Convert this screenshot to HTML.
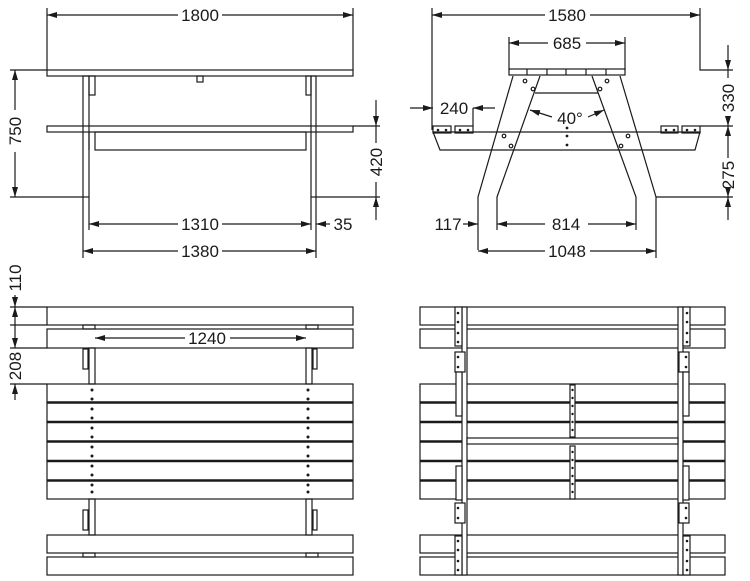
<!DOCTYPE html>
<html><head><meta charset="utf-8"><style>
html,body{margin:0;padding:0;background:#fff}
svg{display:block}
text{font-family:"Liberation Sans",sans-serif;font-size:17px;fill:#1a1a1a}
</style></head><body>
<svg width="750" height="581" viewBox="0 0 750 581" xmlns="http://www.w3.org/2000/svg">
<defs>
<marker id="a" viewBox="0 0 10 6" refX="10" refY="3" markerWidth="10" markerHeight="6" orient="auto-start-reverse" markerUnits="userSpaceOnUse"><path d="M0,0L10,3L0,6z" fill="#1a1a1a"/></marker>
</defs>
<g fill="none" stroke="#1a1a1a" stroke-width="1.2">
<line x1="47" y1="8" x2="47" y2="70"/><line x1="353" y1="8" x2="353" y2="70"/>
<line x1="47" y1="15" x2="178" y2="15" marker-start="url(#a)"/><line x1="222" y1="15" x2="353" y2="15" marker-end="url(#a)"/>
<rect x="47" y="70" width="306" height="6"/>
<rect x="197" y="76" width="6" height="6"/>
<rect x="83" y="76" width="6" height="121"/><rect x="311" y="76" width="5" height="121"/>
<rect x="89" y="76" width="6" height="19"/><rect x="306" y="76" width="5" height="19"/>
<rect x="47" y="126" width="306" height="6"/>
<rect x="95" y="132" width="211" height="18"/>
<line x1="89" y1="132" x2="89" y2="150"/>
<line x1="10" y1="70" x2="47" y2="70"/><line x1="10" y1="197" x2="83" y2="197"/>
<line x1="15" y1="70" x2="15" y2="110" marker-start="url(#a)"/><line x1="15" y1="152" x2="15" y2="197" marker-end="url(#a)"/>
<line x1="353" y1="126" x2="380" y2="126"/><line x1="316" y1="197" x2="380" y2="197"/>
<line x1="376" y1="100" x2="376" y2="126" marker-end="url(#a)"/><line x1="376" y1="126" x2="376" y2="143"/>
<line x1="376" y1="182" x2="376" y2="197"/><line x1="376" y1="220" x2="376" y2="197" marker-end="url(#a)"/>
<line x1="89" y1="197" x2="89" y2="230"/><line x1="311" y1="197" x2="311" y2="230"/>
<line x1="83" y1="197" x2="83" y2="258"/><line x1="316" y1="197" x2="316" y2="258"/>
<line x1="89" y1="224" x2="178" y2="224" marker-start="url(#a)"/><line x1="222" y1="224" x2="311" y2="224" marker-end="url(#a)"/>
<line x1="330" y1="224" x2="316" y2="224" marker-end="url(#a)"/>
<line x1="83" y1="251" x2="178" y2="251" marker-start="url(#a)"/><line x1="222" y1="251" x2="316" y2="251" marker-end="url(#a)"/>
<line x1="432" y1="8" x2="432" y2="130"/><polyline points="700,8 700,70 733,70"/>
<line x1="432" y1="15" x2="545" y2="15" marker-start="url(#a)"/><line x1="590" y1="15" x2="700" y2="15" marker-end="url(#a)"/>
<line x1="509" y1="37" x2="509" y2="70"/><line x1="625" y1="37" x2="625" y2="70"/>
<line x1="509" y1="43" x2="548" y2="43" marker-start="url(#a)"/><line x1="586" y1="43" x2="625" y2="43" marker-end="url(#a)"/>
<rect x="509" y="69" width="116" height="6"/>
<line x1="527" y1="69" x2="527" y2="75"/><line x1="547" y1="69" x2="547" y2="75"/><line x1="566" y1="69" x2="566" y2="75"/><line x1="586" y1="69" x2="586" y2="75"/><line x1="606" y1="69" x2="606" y2="75"/>
<polyline points="513,76 478,197 478,250"/><polyline points="540,76 497,197 497,230"/>
<polyline points="592,76 636,197 636,230"/><polyline points="620,76 656,197 656,258"/>
<line x1="535" y1="93" x2="598" y2="93"/>
<polygon points="433,132 700,132 695,150 440,150"/>
<rect x="433" y="126" width="18" height="7"/><rect x="455" y="126" width="18" height="7"/>
<rect x="661" y="126" width="17" height="7"/><rect x="682" y="126" width="18" height="7"/>
<circle cx="525" cy="81" r="1.8"/><circle cx="533" cy="89" r="1.8"/><circle cx="607" cy="81" r="1.8"/><circle cx="600" cy="89" r="1.8"/>
<circle cx="504" cy="136" r="1.8"/><circle cx="511" cy="146" r="1.8"/><circle cx="628" cy="136" r="1.8"/><circle cx="621" cy="146" r="1.8"/>
<line x1="552" y1="117" x2="530" y2="110" marker-end="url(#a)"/><line x1="588" y1="117" x2="604" y2="110" marker-end="url(#a)"/>
<line x1="410" y1="108" x2="433" y2="108" marker-end="url(#a)"/><line x1="495" y1="108" x2="473" y2="108" marker-end="url(#a)"/>
<line x1="473" y1="108" x2="473" y2="126"/>
<line x1="700" y1="126" x2="733" y2="126"/><line x1="656" y1="197" x2="733" y2="197"/>
<line x1="728" y1="45" x2="728" y2="70" marker-end="url(#a)"/><line x1="728" y1="70" x2="728" y2="78"/>
<line x1="728" y1="120" x2="728" y2="126" marker-end="url(#a)"/><line x1="728" y1="126" x2="728" y2="158" marker-start="url(#a)"/>
<line x1="728" y1="192" x2="728" y2="197" marker-end="url(#a)"/><line x1="728" y1="220" x2="728" y2="197" marker-end="url(#a)"/>
<line x1="463" y1="224" x2="478" y2="224" marker-end="url(#a)"/>
<line x1="497" y1="224" x2="545" y2="224" marker-start="url(#a)"/><line x1="588" y1="224" x2="636" y2="224" marker-end="url(#a)"/>
<line x1="478" y1="251" x2="545" y2="251" marker-start="url(#a)"/><line x1="590" y1="251" x2="656" y2="251" marker-end="url(#a)"/>
<rect x="47" y="307" width="306" height="18"/><rect x="47" y="329" width="306" height="19"/>
<rect x="47" y="384" width="306" height="115"/>
<rect x="47" y="535" width="306" height="18"/><rect x="47" y="557" width="306" height="18"/>
<rect x="89" y="348" width="6" height="36"/><rect x="306" y="348" width="6" height="36"/>
<rect x="89" y="499" width="6" height="36"/><rect x="306" y="499" width="6" height="36"/>
<rect x="83" y="349" width="5" height="20"/><rect x="313" y="349" width="4" height="20"/>
<rect x="83" y="510" width="5" height="20"/><rect x="313" y="510" width="4" height="20"/>
<rect x="83" y="325" width="12" height="4"/><rect x="306" y="325" width="12" height="4"/>
<rect x="83" y="553" width="12" height="4"/><rect x="306" y="553" width="12" height="4"/>
<line x1="10" y1="307" x2="47" y2="307"/><line x1="10" y1="325" x2="47" y2="325"/><line x1="10" y1="348" x2="47" y2="348"/><line x1="10" y1="384" x2="47" y2="384"/>
<line x1="15" y1="295" x2="15" y2="307" marker-end="url(#a)"/><line x1="15" y1="307" x2="15" y2="348" marker-start="url(#a)" marker-end="url(#a)"/>
<line x1="15" y1="400" x2="15" y2="384" marker-end="url(#a)"/>
<line x1="95" y1="338" x2="185" y2="338" marker-start="url(#a)"/><line x1="230" y1="338" x2="306" y2="338" marker-end="url(#a)"/>
<g stroke-width="2.6">
<line x1="47" y1="402.5" x2="353" y2="402.5"/><line x1="47" y1="422" x2="353" y2="422"/><line x1="47" y1="441.5" x2="353" y2="441.5"/><line x1="47" y1="461" x2="353" y2="461"/><line x1="47" y1="480.5" x2="353" y2="480.5"/>
</g>
<rect x="420" y="307" width="305" height="18"/><rect x="420" y="329" width="305" height="19"/>
<rect x="420" y="384" width="305" height="115"/>
<rect x="420" y="535" width="305" height="18"/><rect x="420" y="557" width="305" height="18"/>
<g stroke-width="2.6">
<line x1="420" y1="402.5" x2="725" y2="402.5"/><line x1="420" y1="422" x2="725" y2="422"/><line x1="420" y1="441.5" x2="725" y2="441.5"/><line x1="420" y1="461" x2="725" y2="461"/><line x1="420" y1="480.5" x2="725" y2="480.5"/>
</g>
<rect x="462" y="307" width="5" height="268" fill="#fff"/><rect x="678" y="307" width="5" height="268" fill="#fff"/>
<rect x="467" y="438" width="211" height="6" fill="#fff"/>
<rect x="455" y="307" width="7" height="39" fill="#fff"/><rect x="683" y="307" width="7" height="39" fill="#fff"/>
<rect x="455" y="352" width="10" height="20" fill="#fff"/><rect x="679" y="352" width="10" height="20" fill="#fff"/>
<rect x="456" y="372" width="6" height="44" fill="#fff"/><rect x="683" y="372" width="6" height="44" fill="#fff"/>
<rect x="456" y="466" width="6" height="34" fill="#fff"/><rect x="683" y="466" width="6" height="34" fill="#fff"/>
<rect x="455" y="503" width="10" height="20" fill="#fff"/><rect x="679" y="503" width="10" height="20" fill="#fff"/>
<rect x="455" y="536" width="7" height="39" fill="#fff"/><rect x="683" y="536" width="7" height="39" fill="#fff"/>
<rect x="570" y="385" width="5" height="52" fill="#fff"/><rect x="570" y="446" width="5" height="53" fill="#fff"/>
</g>
<g fill="#1a1a1a">
<circle cx="92" cy="390" r="1.5"/><circle cx="92" cy="399" r="1.5"/><circle cx="92" cy="409" r="1.5"/><circle cx="92" cy="418" r="1.5"/><circle cx="92" cy="428" r="1.5"/><circle cx="92" cy="437" r="1.5"/><circle cx="92" cy="447" r="1.5"/><circle cx="92" cy="456" r="1.5"/><circle cx="92" cy="466" r="1.5"/><circle cx="92" cy="475" r="1.5"/><circle cx="92" cy="485" r="1.5"/><circle cx="92" cy="492" r="1.5"/>
<circle cx="308" cy="390" r="1.5"/><circle cx="308" cy="399" r="1.5"/><circle cx="308" cy="409" r="1.5"/><circle cx="308" cy="418" r="1.5"/><circle cx="308" cy="428" r="1.5"/><circle cx="308" cy="437" r="1.5"/><circle cx="308" cy="447" r="1.5"/><circle cx="308" cy="456" r="1.5"/><circle cx="308" cy="466" r="1.5"/><circle cx="308" cy="475" r="1.5"/><circle cx="308" cy="485" r="1.5"/><circle cx="308" cy="492" r="1.5"/>
<circle cx="567" cy="128" r="1.4"/><circle cx="567" cy="136" r="1.4"/><circle cx="567" cy="145" r="1.4"/>
<circle cx="438" cy="130" r="1.3"/><circle cx="446" cy="130" r="1.3"/><circle cx="460" cy="130" r="1.3"/><circle cx="468" cy="130" r="1.3"/>
<circle cx="666" cy="130" r="1.3"/><circle cx="674" cy="130" r="1.3"/><circle cx="687" cy="130" r="1.3"/><circle cx="695" cy="130" r="1.3"/>
<circle cx="458" cy="313" r="1.3"/><circle cx="458" cy="322" r="1.3"/><circle cx="458" cy="333" r="1.3"/><circle cx="458" cy="342" r="1.3"/>
<circle cx="687" cy="313" r="1.3"/><circle cx="687" cy="322" r="1.3"/><circle cx="687" cy="333" r="1.3"/><circle cx="687" cy="342" r="1.3"/>
<circle cx="458" cy="357" r="1.3"/><circle cx="458" cy="367" r="1.3"/><circle cx="686" cy="357" r="1.3"/><circle cx="686" cy="367" r="1.3"/>
<circle cx="458" cy="508" r="1.3"/><circle cx="458" cy="518" r="1.3"/><circle cx="686" cy="508" r="1.3"/><circle cx="686" cy="518" r="1.3"/>
<circle cx="458" cy="541" r="1.3"/><circle cx="458" cy="550" r="1.3"/><circle cx="458" cy="561" r="1.3"/><circle cx="458" cy="570" r="1.3"/>
<circle cx="687" cy="541" r="1.3"/><circle cx="687" cy="550" r="1.3"/><circle cx="687" cy="561" r="1.3"/><circle cx="687" cy="570" r="1.3"/>
<circle cx="572.5" cy="390" r="1.2"/><circle cx="572.5" cy="398" r="1.2"/><circle cx="572.5" cy="406" r="1.2"/><circle cx="572.5" cy="414" r="1.2"/><circle cx="572.5" cy="422" r="1.2"/><circle cx="572.5" cy="430" r="1.2"/>
<circle cx="572.5" cy="452" r="1.2"/><circle cx="572.5" cy="460" r="1.2"/><circle cx="572.5" cy="468" r="1.2"/><circle cx="572.5" cy="476" r="1.2"/><circle cx="572.5" cy="484" r="1.2"/><circle cx="572.5" cy="492" r="1.2"/>
</g>
<text x="200" y="21" text-anchor="middle">1800</text>
<text transform="translate(21,131) rotate(-90)" text-anchor="middle">750</text>
<text transform="translate(382,162) rotate(-90)" text-anchor="middle">420</text>
<text x="200" y="230" text-anchor="middle">1310</text>
<text x="343" y="230" text-anchor="middle">35</text>
<text x="200" y="257" text-anchor="middle">1380</text>
<text x="567" y="21" text-anchor="middle">1580</text>
<text x="567" y="49" text-anchor="middle">685</text>
<text x="570" y="124" text-anchor="middle">40°</text>
<text x="454" y="114" text-anchor="middle">240</text>
<text transform="translate(734,98) rotate(-90)" text-anchor="middle">330</text>
<text transform="translate(734,175) rotate(-90)" text-anchor="middle">275</text>
<text x="448" y="230" text-anchor="middle">117</text>
<text x="566" y="230" text-anchor="middle">814</text>
<text x="567" y="257" text-anchor="middle">1048</text>
<text transform="translate(21,278) rotate(-90)" text-anchor="middle">110</text>
<text transform="translate(21,366) rotate(-90)" text-anchor="middle">208</text>
<text x="207" y="344" text-anchor="middle">1240</text>
</svg>
</body></html>
